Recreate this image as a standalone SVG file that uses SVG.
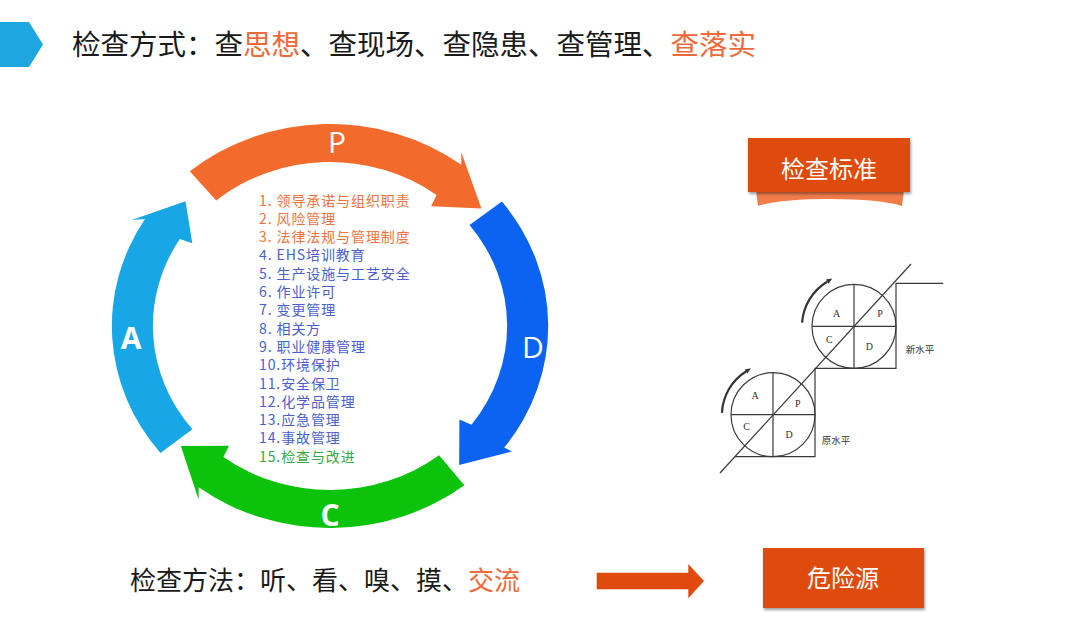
<svg xmlns="http://www.w3.org/2000/svg" width="1080" height="632" viewBox="0 0 1080 632">
<defs>
<filter id="sh" x="-10%" y="-10%" width="120%" height="130%">
<feGaussianBlur in="SourceAlpha" stdDeviation="1.5"/>
<feOffset dx="1" dy="2" result="b"/>
<feComponentTransfer><feFuncA type="linear" slope="0.4"/></feComponentTransfer>
<feMerge><feMergeNode/><feMergeNode in="SourceGraphic"/></feMerge>
</filter>
<style>
.cjk{font-family:"Noto Sans CJK SC","Noto Sans",sans-serif;}
.list{font-family:"Noto Sans CJK SC","Noto Sans",sans-serif;font-size:14px;letter-spacing:0.9px;}
.o{fill:#EE7340;}
.b{fill:#4B60D0;}
.g{fill:#36A844;}
.big{font-family:"Open Sans","Liberation Sans",sans-serif;font-size:30px;fill:#fff;text-anchor:middle;}
.ln{fill:none;stroke:#3a3a3a;stroke-width:1.2;}
.sl{font-family:"Liberation Serif",serif;font-size:10px;fill:#333;text-anchor:middle;}
.sc{font-family:"Noto Sans CJK SC",sans-serif;font-size:9.5px;fill:#333;text-anchor:middle;}
.box{fill:#DF4B10;}
.bt{font-family:"Noto Sans CJK SC",sans-serif;font-size:24px;fill:#fff;text-anchor:middle;}
</style>
</defs>
<rect width="1080" height="632" fill="#fff"/>

<g id="header">
<polygon points="0,22 29,22 43,44.5 29,67 0,67" fill="#1DA6E0"/>
<text class="cjk" x="72" y="55" font-size="28.5" fill="#1a1a1a">检查方式：查<tspan fill="#EE6A3A">思想</tspan>、查现场、查隐患、查管理、<tspan fill="#EE6A3A">查落实</tspan></text>
</g>

<g id="pdca-ring" transform="translate(330,326) scale(1.08,1)">
<path id="arrow-P" fill="#F26A2C" d="M -129.8,-154.7 A 202 202 0 0 1 121.6,-161.3 L 121.6,-173.7 L 140.2,-117.6 L 93.6,-119.8 L 98.7,-131.0 A 164 164 0 0 0 -105.4,-125.6 Z"/>
<path id="arrow-D" fill="#0C63F2" d="M 159.2,-124.4 A 202 202 0 0 1 161.3,121.6 L 168.5,125.5 L 119.6,139.0 L 119.8,93.6 L 131.0,98.7 A 164 164 0 0 0 129.2,-101.0 Z"/>
<path id="arrow-C" fill="#0BC30B" d="M 124.4,159.2 A 202 202 0 0 1 -121.6,161.3 L -121.6,173.7 L -138.1,120.1 L -93.6,119.8 L -98.7,131.0 A 164 164 0 0 0 101.0,129.2 Z"/>
<path id="arrow-A" fill="#17A7E6" d="M -157.0,127.1 A 202 202 0 0 1 -171.3,-107.0 L -183.6,-106.0 L -133.8,-124.8 L -127.5,-82.8 L -139.1,-86.9 A 164 164 0 0 0 -127.4,103.2 Z"/>
</g>
<g id="ring-labels">
<text class="big" x="337" y="153">P</text>
<text class="big" x="533" y="358">D</text>
<text class="big" x="330" y="526" font-weight="bold">C</text>
<text class="big" x="131" y="349" font-weight="bold">A</text>
</g>

<g id="element-list" class="list">
<text class="o" x="259" y="205.5">1. 领导承诺与组织职责</text>
<text class="o" x="259" y="223.8">2. 风险管理</text>
<text class="o" x="259" y="242.1">3. 法律法规与管理制度</text>
<text class="b" x="259" y="260.4">4. EHS培训教育</text>
<text class="b" x="259" y="278.7">5. 生产设施与工艺安全</text>
<text class="b" x="259" y="297.0">6. 作业许可</text>
<text class="b" x="259" y="315.3">7. 变更管理</text>
<text class="b" x="259" y="333.6">8. 相关方</text>
<text class="b" x="259" y="351.9">9. 职业健康管理</text>
<text class="b" x="259" y="370.2">10.环境保护</text>
<text class="b" x="259" y="388.5">11.安全保卫</text>
<text class="b" x="259" y="406.8">12.化学品管理</text>
<text class="b" x="259" y="425.1">13.应急管理</text>
<text class="b" x="259" y="443.4">14.事故管理</text>
<text class="g" x="259" y="461.7">15.检查与改进</text>
</g>

<g id="box-standard">
<path d="M756,190 H904 L902,206 Q880,199 830,199 Q780,199 758,206 Z" fill="#F07C4A"/>
<rect class="box" x="748" y="138" width="162" height="54" filter="url(#sh)"/>
<text class="bt" x="829" y="178">检查标准</text>
</g>

<g id="staircase">
<polyline class="ln" points="735,456.7 815,456.7 815,368.3 896,368.3 896,283.3 943.3,283.3"/>
<circle class="ln" cx="773" cy="414.7" r="42"/>
<line class="ln" x1="731" y1="414.7" x2="815" y2="414.7"/>
<line class="ln" x1="773" y1="372.7" x2="773" y2="456.7"/>
<circle class="ln" cx="854" cy="326.3" r="42"/>
<line class="ln" x1="812" y1="326.3" x2="896" y2="326.3"/>
<line class="ln" x1="854" y1="284.3" x2="854" y2="368.3"/>
<line class="ln" x1="720" y1="473" x2="911" y2="264"/>
<path d="M 722.0,412.9 A 51 51 0 0 1 746.0,371.5" fill="none" stroke="#333" stroke-width="2.2"/>
<polygon points="751.1,368.3 747.3,373.6 744.7,369.4" fill="#333"/>
<path d="M 802.1,322.7 A 52 52 0 0 1 827.2,281.7" fill="none" stroke="#333" stroke-width="2.2"/>
<polygon points="832.3,278.6 828.5,283.8 825.9,279.6" fill="#333"/>
<text class="sl" x="755" y="398.5">A</text>
<text class="sl" x="797.7" y="407">P</text>
<text class="sl" x="746.7" y="430">C</text>
<text class="sl" x="789" y="437.5">D</text>
<text class="sl" x="836.7" y="317">A</text>
<text class="sl" x="880" y="317">P</text>
<text class="sl" x="829.3" y="342.5">C</text>
<text class="sl" x="869.3" y="350">D</text>
<text class="sc" x="836" y="444">原水平</text>
<text class="sc" x="920" y="353">新水平</text>
</g>

<g id="methods">
<text class="cjk" x="130" y="590" font-size="26" fill="#1a1a1a">检查方法：听、看、嗅、摸、<tspan fill="#EE6A3A">交流</tspan></text>
</g>

<g id="connectors">
<polygon points="596.7,572.7 688.3,572.7 688.3,564 704,581 688.3,598.3 688.3,589.3 596.7,589.3" fill="#E04A0E"/>
</g>

<g id="box-hazard">
<rect class="box" x="763" y="548" width="161" height="60" filter="url(#sh)"/>
<text class="bt" x="843" y="587">危险源</text>
</g>
</svg>
